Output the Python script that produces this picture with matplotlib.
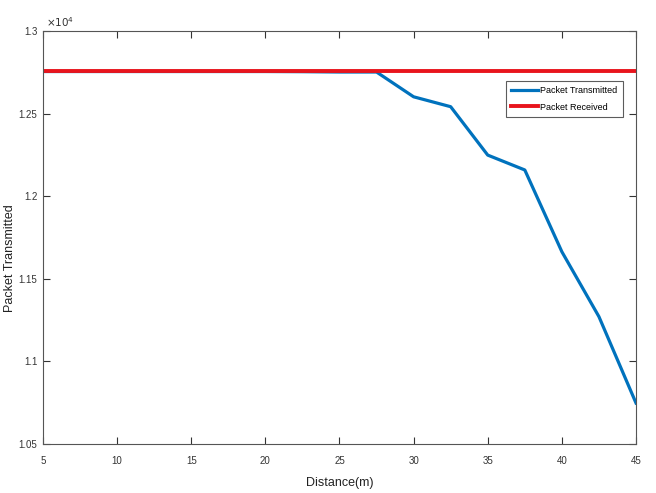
import numpy as np
import matplotlib
matplotlib.use('Agg')
import matplotlib.pyplot as plt

plt.rcParams['font.family'] = ['Liberation Sans', 'DejaVu Sans']

distance = [5, 7.5, 10, 12.5, 15, 17.5, 20, 22.5, 25, 27.5, 30, 32.5, 35, 37.5, 40, 42.5, 45]
transmitted = [12755, 12755, 12755, 12755, 12755, 12755, 12755, 12754, 12752, 12752,
               12602, 12542, 12249, 12159, 11664, 11271, 10748]
received = [12760] * len(distance)

fig = plt.figure(figsize=(6.56, 4.93), dpi=100)
ax = fig.add_axes([0.0655, 0.0994, 0.904, 0.8376])

ax.plot(distance, transmitted, color='#0072BD', lw=2.3, label='Packet Transmitted')
ax.plot(distance, received, color='#E8141C', lw=2.8, label='Packet Received')

ax.set_xlim(5, 45)
ax.set_ylim(10500, 13000)
ax.set_xticks(np.arange(5, 46, 5))
ax.set_yticks(np.arange(10500, 13001, 500))
ax.set_yticklabels(['1.05', '1.1', '1.15', '1.2', '1.25', '1.3'])
ax.text(0.005, 1.005, r'$\times10^4$', transform=ax.transAxes, fontsize=7.5, color='#333333',
        ha='left', va='bottom')

ax.tick_params(direction='in', top=True, right=True, length=5, labelsize=7, colors='#333333')
ax.tick_params(axis='x', pad=9)
ax.tick_params(axis='y', pad=4)
for s in ax.spines.values():
    s.set_color('#555555')
    s.set_linewidth(0.8)

ax.set_xlabel('Distance(m)', fontsize=9, color='#222222')
ax.xaxis.set_label_coords(0.5, -0.08)
ax.set_ylabel('Packet Transmitted', fontsize=9, color='#222222')
ax.yaxis.set_label_coords(-0.046, 0.45)

leg = ax.legend(loc='upper right', bbox_to_anchor=(0.985, 0.89), fontsize=6.5,
                fancybox=False, edgecolor='#333333', handlelength=3, borderpad=0.6,
                handletextpad=0.2, labelspacing=0.8)
leg.get_frame().set_linewidth(0.8)

fig.savefig('out.png', dpi=100)
